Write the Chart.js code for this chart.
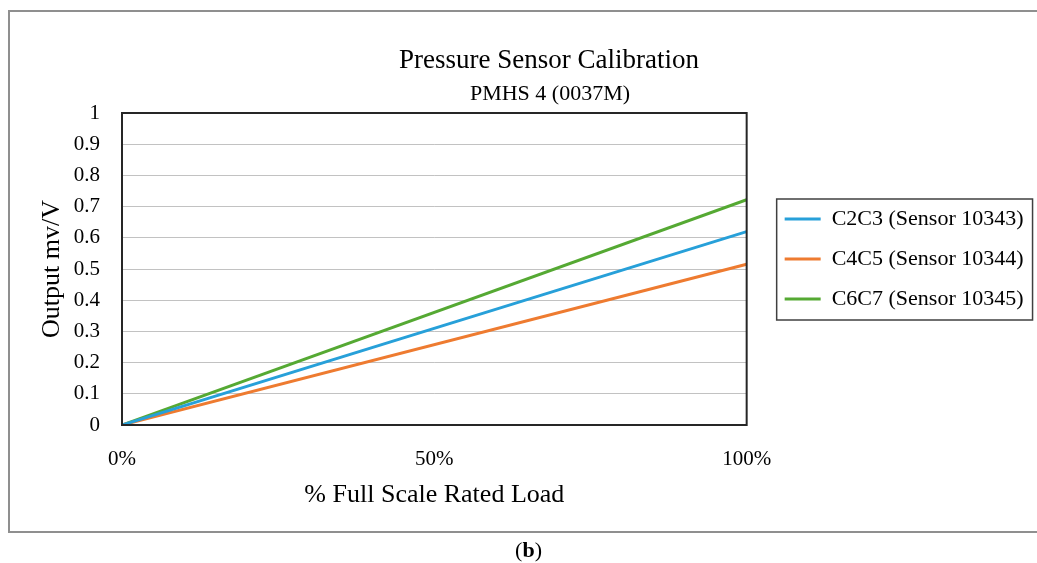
<!DOCTYPE html>
<html>
<head>
<meta charset="utf-8">
<script src="https://cdn.jsdelivr.net/npm/chart.js@4.4.1/dist/chart.umd.min.js"></script>
<style>
  html, body { margin: 0; padding: 0; background: #fff; overflow: hidden; }
  #frame { position: absolute; left: 8px; top: 10px; width: 1200px; height: 523px; border: 2px solid #8f8f8f; border-right: none; box-sizing: border-box; }
  #wrap { position: absolute; left: 0; top: 0; width: 1037px; height: 563px; }
  #caption { position: absolute; left: 10px; width: 1037px; top: 537px; text-align: center; font: 22px 'Liberation Serif', serif; color: #000; }
</style>
</head>
<body>
<div id="frame"></div>
<div id="wrap"><canvas id="calChart" width="1037" height="563"></canvas></div>
<div id="caption">(<b>b</b>)</div>
<script>
// chart data
const chartTitle = "Pressure Sensor Calibration";
const chartSubtitle = "PMHS 4 (0037M)";
const loadPct = [0, 100];            // % full scale rated load
const c2c3 = [0, 0.62];
const c4c5 = [0, 0.515];
const c6c7 = [0, 0.722];
const seriesNames = ["C2C3 (Sensor 10343)", "C4C5 (Sensor 10344)", "C6C7 (Sensor 10345)"];
const seriesColors = ["#27a0d9", "#ee7b30", "#55a933"];
const xTickValues = [0, 50, 100];

const serif = "'Liberation Serif', serif";
Chart.defaults.font.family = serif;
Chart.defaults.color = "#000";

const legendFont = 22;
const legendPad = 18;
const lineSample = 36;

// work out how wide the legend will be so the plot ends where the original does
const measure = document.createElement("canvas").getContext("2d");
measure.font = legendFont + "px " + serif;
let maxText = 0;
seriesNames.forEach(n => { maxText = Math.max(maxText, measure.measureText(n).width); });
const legendWidth = lineSample + legendFont / 2 + maxText + 10;
const padRight = 1037 - 740 - legendWidth;

function toPoints(values) {
    return values.map((v, i) => ({ x: loadPct[i], y: v }));
}

const titlePlugin = {
    id: "titles",
    afterDraw(chart) {
        const ctx = chart.ctx;
        ctx.save();
        ctx.fillStyle = "#000";
        ctx.textAlign = "center";
        ctx.textBaseline = "middle";
        ctx.font = "27px " + serif;
        ctx.fillText(chartTitle, 549, 61);
        ctx.font = "22px " + serif;
        ctx.fillText(chartSubtitle, 550, 94);
        ctx.restore();
    }
};

const framePlugin = {
    id: "plotFrame",
    afterLayout(chart) {
        // nudge legend to the right and up like the original
        const lg = chart.legend;
        lg.left += 20; lg.right += 50;
        lg.top -= 55; lg.bottom -= 55;
    },
    afterDatasetsDraw(chart) {
        const { ctx, chartArea: a } = chart;
        ctx.save();
        ctx.strokeStyle = "#262626";
        ctx.lineWidth = 2;
        ctx.strokeRect(a.left, a.top, a.right - a.left, a.bottom - a.top);
        ctx.restore();
    },
    afterDraw(chart) {
        const boxes = chart.legend.legendHitBoxes;
        if (!boxes || !boxes.length) return;
        let l = Infinity, r = -Infinity, t = Infinity, b = -Infinity;
        boxes.forEach(h => {
            l = Math.min(l, h.left); r = Math.max(r, h.left + h.width);
            t = Math.min(t, h.top); b = Math.max(b, h.top + h.height);
        });
        const ctx = chart.ctx;
        ctx.save();
        ctx.strokeStyle = "#404040";
        ctx.lineWidth = 1.5;
        ctx.strokeRect(l - 8, t - 9, r - l + 17, b - t + 19);
        ctx.restore();
    }
};

const ctx = document.getElementById("calChart").getContext("2d");
const calChart = new Chart(ctx, {
    type: "line",
    data: {
        datasets: [
            { label: seriesNames[0], data: toPoints(c2c3), borderColor: seriesColors[0], backgroundColor: seriesColors[0] },
            { label: seriesNames[1], data: toPoints(c4c5), borderColor: seriesColors[1], backgroundColor: seriesColors[1] },
            { label: seriesNames[2], data: toPoints(c6c7), borderColor: seriesColors[2], backgroundColor: seriesColors[2] }
        ].map(d => Object.assign(d, { borderWidth: 3, pointRadius: 0, tension: 0, fill: false }))
    },
    options: {
        responsive: false,
        animation: false,
        layout: {
            padding: { left: 20, top: 113, right: padRight, bottom: 48 }
        },
        plugins: {
            title: { display: false },
            tooltip: { enabled: false },
            legend: {
                display: true,
                position: "right",
                align: "center",
                labels: {
                    usePointStyle: true,
                    pointStyle: "line",
                    pointStyleWidth: lineSample,
                    padding: legendPad,
                    color: "#000",
                    font: { size: legendFont }
                }
            }
        },
        scales: {
            x: {
                type: "linear",
                min: 0,
                max: 100,
                afterBuildTicks(scale) {
                    scale.ticks = xTickValues.map(v => ({ value: v }));
                },
                afterFit(scale) { scale.height = 90; },
                grid: { display: false, drawTicks: false },
                border: { display: true, color: "#262626", width: 2 },
                ticks: {
                    padding: 22,
                    maxRotation: 0,
                    font: { size: 21 },
                    callback: v => v + "%"
                },
                title: {
                    display: true,
                    text: "% Full Scale Rated Load",
                    font: { size: 26 },
                    padding: { top: 0, bottom: 4 }
                }
            },
            y: {
                min: 0,
                max: 1,
                afterFit(scale) { scale.width = 102; },
                grid: { color: "#c2c2c2", lineWidth: 1, drawTicks: false },
                border: { display: true, color: "#262626", width: 2 },
                ticks: {
                    stepSize: 0.1,
                    padding: 22,
                    font: { size: 21 },
                    callback: v => String(Math.round(v * 10) / 10)
                },
                title: {
                    display: true,
                    text: "Output mv/V",
                    font: { size: 26 },
                    padding: { top: 17, bottom: 0 }
                }
            }
        }
    },
    plugins: [titlePlugin, framePlugin]
});
</script>
</body>
</html>
